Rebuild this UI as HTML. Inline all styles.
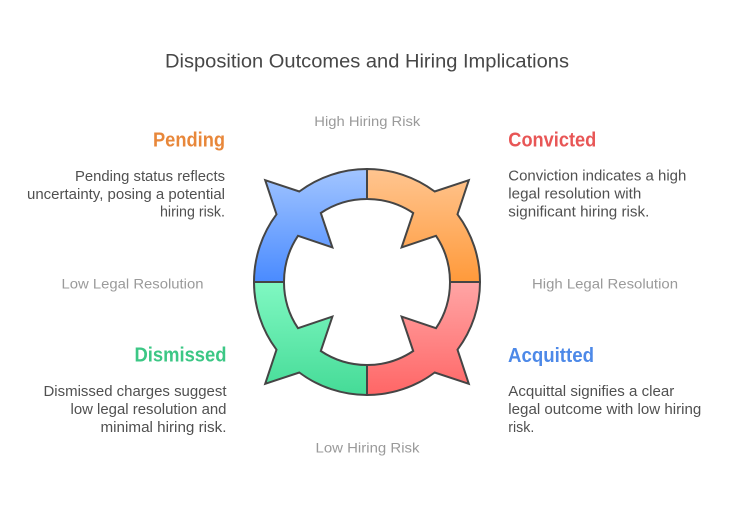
<!DOCTYPE html>
<html>
<head>
<meta charset="utf-8">
<style>
html,body{margin:0;padding:0;background:#fff;}
svg{display:block;}
text{font-family:"Liberation Sans",Arial,sans-serif;}
</style>
</head>
<body>
<svg width="735" height="518" viewBox="0 0 735 518" xmlns="http://www.w3.org/2000/svg">
<defs>
<linearGradient id="gb" x1="0" y1="0" x2="0" y2="1"><stop offset="0" stop-color="#a2c5ff"/><stop offset="1" stop-color="#4a8bff"/></linearGradient>
<linearGradient id="go" x1="0" y1="0" x2="0" y2="1"><stop offset="0" stop-color="#ffc590"/><stop offset="1" stop-color="#ff9a3b"/></linearGradient>
<linearGradient id="gr" x1="0" y1="0" x2="0" y2="1"><stop offset="0" stop-color="#ffa5a5"/><stop offset="1" stop-color="#ff6666"/></linearGradient>
<linearGradient id="gg" x1="0" y1="0" x2="0" y2="1"><stop offset="0" stop-color="#80f8c2"/><stop offset="1" stop-color="#45db97"/></linearGradient>
</defs>

<rect width="735" height="518" fill="#fff"/>

<text x="367" y="67.7" font-size="19" fill="#474747" text-anchor="middle" textLength="404" lengthAdjust="spacingAndGlyphs">Disposition Outcomes and Hiring Implications</text>

<g stroke="#454545" stroke-width="2" stroke-linejoin="miter">
<path fill="url(#gb)" d="M367,169 A113,113 0 0 0 299.3,191.5 L265.2,180.2 L276.5,214.3 A113,113 0 0 0 254,282 L284,282 A83,83 0 0 1 298.0,235.8 L332.4,247.4 L320.8,213.0 A83,83 0 0 1 367,199 Z"/>
<path fill="url(#go)" d="M367,169 A113,113 0 0 1 434.7,191.5 L468.8,180.2 L457.5,214.3 A113,113 0 0 1 480,282 L450,282 A83,83 0 0 0 436.0,235.8 L401.6,247.4 L413.2,213.0 A83,83 0 0 0 367,199 Z"/>
<path fill="url(#gr)" d="M367,395 A113,113 0 0 0 434.7,372.5 L468.8,383.8 L457.5,349.7 A113,113 0 0 0 480,282 L450,282 A83,83 0 0 1 436.0,328.2 L401.6,316.6 L413.2,351.0 A83,83 0 0 1 367,365 Z"/>
<path fill="url(#gg)" d="M367,395 A113,113 0 0 1 299.3,372.5 L265.2,383.8 L276.5,349.7 A113,113 0 0 1 254,282 L284,282 A83,83 0 0 0 298.0,328.2 L332.4,316.6 L320.8,351.0 A83,83 0 0 0 367,365 Z"/>
</g>

<g font-size="14" fill="#9a9a9a">
<text x="314.3" y="126" textLength="106" lengthAdjust="spacingAndGlyphs">High Hiring Risk</text>
<text x="315.5" y="452.5" textLength="104" lengthAdjust="spacingAndGlyphs">Low Hiring Risk</text>
<text x="61.5" y="288.5" textLength="142" lengthAdjust="spacingAndGlyphs">Low Legal Resolution</text>
<text x="532" y="288.5" textLength="146" lengthAdjust="spacingAndGlyphs">High Legal Resolution</text>
</g>

<g font-size="20" font-weight="bold">
<text x="225" y="146.5" fill="#e8873a" text-anchor="end" textLength="72" lengthAdjust="spacingAndGlyphs">Pending</text>
<text x="508.3" y="146.3" fill="#e85656" textLength="88" lengthAdjust="spacingAndGlyphs">Convicted</text>
<text x="508" y="362" fill="#4d89e8" textLength="86" lengthAdjust="spacingAndGlyphs">Acquitted</text>
<text x="226.5" y="361.5" fill="#3cc785" text-anchor="end" textLength="92" lengthAdjust="spacingAndGlyphs">Dismissed</text>
</g>

<g font-size="15" fill="#505050">
<text x="225" y="181" text-anchor="end" textLength="150" lengthAdjust="spacingAndGlyphs">Pending status reflects</text>
<text x="225" y="199" text-anchor="end" textLength="198" lengthAdjust="spacingAndGlyphs">uncertainty, posing a potential</text>
<text x="225" y="216.7" text-anchor="end" textLength="65" lengthAdjust="spacingAndGlyphs">hiring risk.</text>

<text x="508.3" y="180.5" textLength="178" lengthAdjust="spacingAndGlyphs">Conviction indicates a high</text>
<text x="508.3" y="198.5" textLength="133" lengthAdjust="spacingAndGlyphs">legal resolution with</text>
<text x="508.3" y="216.5" textLength="141" lengthAdjust="spacingAndGlyphs">significant hiring risk.</text>

<text x="508.3" y="396" textLength="166" lengthAdjust="spacingAndGlyphs">Acquittal signifies a clear</text>
<text x="508.3" y="414" textLength="193" lengthAdjust="spacingAndGlyphs">legal outcome with low hiring</text>
<text x="508.3" y="432" textLength="26" lengthAdjust="spacingAndGlyphs">risk.</text>

<text x="226.5" y="396" text-anchor="end" textLength="183" lengthAdjust="spacingAndGlyphs">Dismissed charges suggest</text>
<text x="226.5" y="414" text-anchor="end" textLength="156" lengthAdjust="spacingAndGlyphs">low legal resolution and</text>
<text x="226.5" y="432" text-anchor="end" textLength="126" lengthAdjust="spacingAndGlyphs">minimal hiring risk.</text>
</g>
</svg>
</body>
</html>
